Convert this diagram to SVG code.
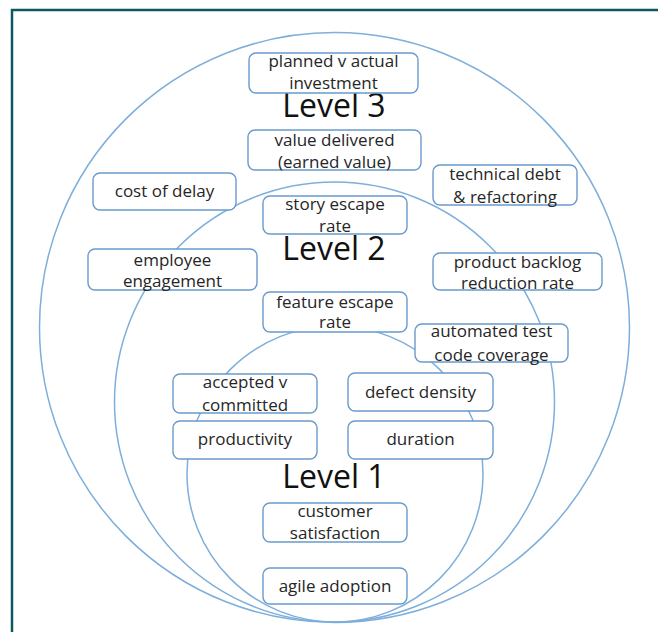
<svg xmlns="http://www.w3.org/2000/svg" width="658" height="632" viewBox="0 0 658 632">
  <style>
    .ring { fill: none; stroke: #7eaedb; stroke-width: 1.5; }
    .box { fill: #ffffff; stroke: #6a9acd; stroke-width: 1.4; }
    .t { font-family: "Open Sans", "Liberation Sans", sans-serif; font-size: 17px; fill: #262626; text-anchor: middle; }
    .lvl { font-family: "Open Sans", "Liberation Sans", sans-serif; font-size: 32px; fill: #111111; text-anchor: middle; }
  </style>
  <rect x="0" y="0" width="658" height="632" fill="#ffffff"/>
  <path d="M12 632 V10 H658" fill="none" stroke="#0d5863" stroke-width="2.5"/>

  <g id="levels">
    <circle class="ring" cx="334.5" cy="327.5" r="295"/>
    <circle class="ring" cx="334.5" cy="402" r="220"/>
    <circle class="ring" cx="335" cy="474" r="148"/>
  </g>

  <g id="level3-label"><text class="lvl" x="334" y="117">Level 3</text></g>
  <g id="level2-label"><text class="lvl" x="334" y="260">Level 2</text></g>
  <g id="level1-label"><text class="lvl" x="334" y="488">Level 1</text></g>

  <g id="planned-v-actual">
    <rect class="box" x="249" y="53" width="169" height="40" rx="7"/>
    <text class="t" x="333.5" y="67">planned v actual</text>
    <text class="t" x="333.5" y="89">investment</text>
  </g>
  <g id="value-delivered">
    <rect class="box" x="248" y="130" width="173" height="40" rx="7"/>
    <text class="t" x="334.5" y="146">value delivered</text>
    <text class="t" x="334.5" y="168">(earned value)</text>
  </g>
  <g id="cost-of-delay">
    <rect class="box" x="93" y="173" width="143" height="37" rx="7"/>
    <text class="t" x="164.5" y="197">cost of delay</text>
  </g>
  <g id="technical-debt">
    <rect class="box" x="433" y="165" width="144" height="40" rx="7"/>
    <text class="t" x="505" y="180">technical debt</text>
    <text class="t" x="505" y="203">&amp; refactoring</text>
  </g>
  <g id="story-escape-rate">
    <rect class="box" x="263" y="196" width="144" height="38" rx="7"/>
    <text class="t" x="335" y="210">story escape</text>
    <text class="t" x="335" y="232">rate</text>
  </g>
  <g id="employee-engagement">
    <rect class="box" x="88" y="249" width="169" height="41" rx="7"/>
    <text class="t" x="172.5" y="266">employee</text>
    <text class="t" x="172.5" y="287">engagement</text>
  </g>
  <g id="product-backlog">
    <rect class="box" x="433" y="253" width="169" height="37" rx="7"/>
    <text class="t" x="517.5" y="268">product backlog</text>
    <text class="t" x="517.5" y="289">reduction rate</text>
  </g>
  <g id="feature-escape-rate">
    <rect class="box" x="263" y="292" width="144" height="40" rx="7"/>
    <text class="t" x="335" y="308">feature escape</text>
    <text class="t" x="335" y="328">rate</text>
  </g>
  <g id="automated-test">
    <rect class="box" x="415" y="324" width="153" height="38" rx="7"/>
    <text class="t" x="491.5" y="337">automated test</text>
    <text class="t" x="491.5" y="361">code coverage</text>
  </g>
  <g id="accepted-v-committed">
    <rect class="box" x="173" y="374" width="144" height="39" rx="7"/>
    <text class="t" x="245" y="388">accepted v</text>
    <text class="t" x="245" y="411">committed</text>
  </g>
  <g id="defect-density">
    <rect class="box" x="348" y="373" width="145" height="38" rx="7"/>
    <text class="t" x="420.5" y="398">defect density</text>
  </g>
  <g id="productivity">
    <rect class="box" x="173" y="421" width="144" height="38" rx="7"/>
    <text class="t" x="245" y="445">productivity</text>
  </g>
  <g id="duration">
    <rect class="box" x="348" y="421" width="145" height="38" rx="7"/>
    <text class="t" x="420.5" y="445">duration</text>
  </g>
  <g id="customer-satisfaction">
    <rect class="box" x="263" y="503" width="144" height="39" rx="7"/>
    <text class="t" x="335" y="517">customer</text>
    <text class="t" x="335" y="539">satisfaction</text>
  </g>
  <g id="agile-adoption">
    <rect class="box" x="263" y="568" width="144" height="36" rx="7"/>
    <text class="t" x="335" y="592">agile adoption</text>
  </g>
</svg>
